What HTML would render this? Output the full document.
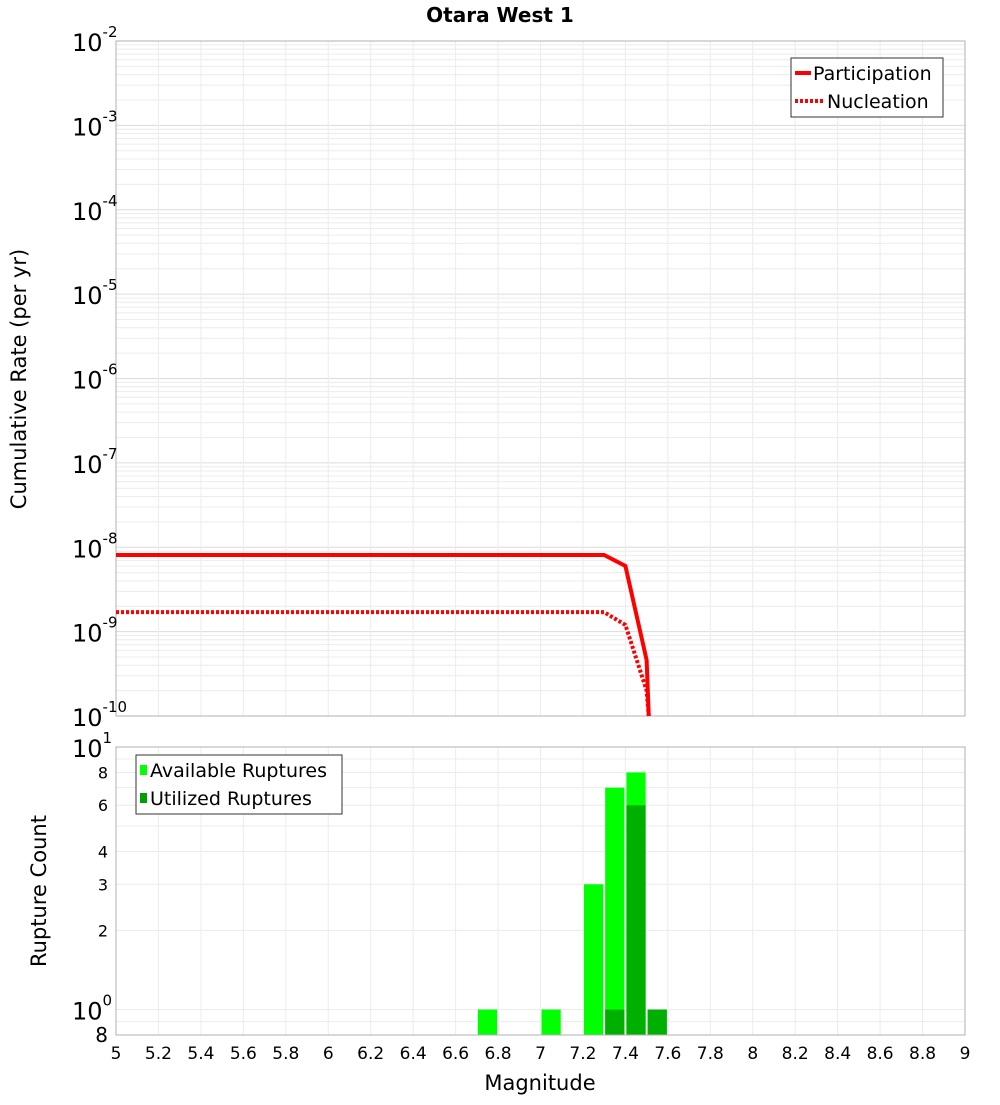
<!DOCTYPE html>
<html><head><meta charset="utf-8"><style>
body{margin:0;background:#fff;font-family:"Liberation Sans","DejaVu Sans",sans-serif}
</style></head><body>
<svg id="c" width="1000" height="1100" xmlns="http://www.w3.org/2000/svg" font-family="DejaVu Sans, Liberation Sans, sans-serif">
<text x="500" y="22" text-anchor="middle" font-size="20" font-weight="bold">Otara West 1</text>
<g id="topg"></g><g id="botg"></g>
<text transform="translate(26,379) rotate(-90)" text-anchor="middle" font-size="21">Cumulative Rate (per yr)</text>
<text transform="translate(46,891) rotate(-90)" text-anchor="middle" font-size="21">Rupture Count</text>
<text x="540" y="1090" text-anchor="middle" font-size="21">Magnitude</text>
</svg>
<script>
const partMags=[5,7.3,7.4,7.5,7.51];
const partRates=[8.1e-9,8.1e-9,6e-9,4.6e-10,1e-10];
const nuclMags=[5,7.3,7.4,7.5,7.51];
const nuclRates=[1.7e-9,1.7e-9,1.2e-9,2e-10,1e-10];
const binCenters=[6.75,7.05,7.25,7.35,7.45,7.55];
const availCounts=[1,1,3,7,8,1];
const utilCounts=[0,0,0,1,6,1];
const xTicks=[5,5.2,5.4,5.6,5.8,6,6.2,6.4,6.6,6.8,7,7.2,7.4,7.6,7.8,8,8.2,8.4,8.6,8.8,9];
const topExps=[-2,-3,-4,-5,-6,-7,-8,-9,-10];
const botTicks=[0.8,1,2,3,4,6,8,10];
const NS="http://www.w3.org/2000/svg";
const X0=116,X1=965;
const xs=m=>X0+(m-5)/4*(X1-X0);
const T0=41,T1=716;
const yt=v=>T0+(-2-Math.log10(v))/8*(T1-T0);
const B0=747,B1=1035;
const yb=v=>B0+(1-Math.log10(v))/(1-Math.log10(0.8))*(B1-B0);
function mk(p,t,a){const e=document.createElementNS(NS,t);for(const k in a)e.setAttribute(k,a[k]);p.appendChild(e);return e;}
const topG=document.getElementById('topg'),botG=document.getElementById('botg');
for(let e=-10;e<-2;e++)for(let k=1;k<10;k++){const y=yt(k*Math.pow(10,e));
 const l=mk(topG,'line',{x1:X0,x2:X1,y1:y,y2:y,stroke:k==1?'#dcdcdc':'#ececec','stroke-width':1});
 
 }
xTicks.forEach(m=>{const l=mk(topG,'line',{x1:xs(m),x2:xs(m),y1:T0,y2:T1,stroke:'#ececec'});
 
 
 const l2=mk(botG,'line',{x1:xs(m),x2:xs(m),y1:B0,y2:B1,stroke:'#ececec'});
 
 });
const tf=mk(topG,'rect',{x:X0,y:T0,width:X1-X0,height:T1-T0,fill:'none',stroke:'#b0b0b0'});


topExps.forEach(e=>{const y=yt(Math.pow(10,e));
 const t=mk(topG,'text',{x:72,y:y+10,'font-size':24});
 
 
 t.innerHTML='10<tspan dy="-14" font-size="15">'+e+'</tspan>';});
function line(ms,rs,dash,name){const pts=ms.map((m,i)=>xs(m)+','+yt(rs[i])).join(' ');
 const p=mk(topG,'polyline',{points:pts,fill:'none',stroke:'#ff0000','stroke-width':4});
 if(dash)p.setAttribute('stroke-dasharray','3,2');
 
 }
line(partMags,partRates,false,'participation-line');
line(nuclMags,nuclRates,true,'nucleation-line');
const lg=mk(topG,'g',{});


mk(lg,'rect',{x:791,y:58,width:152,height:59,fill:'#fff',stroke:'#333'});
mk(lg,'line',{x1:795,x2:811,y1:73,y2:73,stroke:'#f00','stroke-width':4});
mk(lg,'text',{x:813,y:80,'font-size':19}).textContent='Participation';
mk(lg,'line',{x1:795,x2:824,y1:101,y2:101,stroke:'#f00','stroke-width':4,'stroke-dasharray':'3,2'});
mk(lg,'text',{x:827,y:108,'font-size':19}).textContent='Nucleation';
[0.9,1,2,3,4,5,6,7,8,9].forEach(v=>{const y=yb(v);const l=mk(botG,'line',{x1:X0,x2:X1,y1:y,y2:y,stroke:'#ececec'});
 
 });
binCenters.forEach((c,i)=>{const x=xs(c-0.05)+1,w=xs(c+0.05)-xs(c-0.05)-2;
 const a=mk(botG,'rect',{x:x,y:yb(availCounts[i]),width:w,height:B1-yb(availCounts[i]),fill:'#00ff00'});
 
 
 if(utilCounts[i]>0){const u=mk(botG,'rect',{x:x,y:yb(utilCounts[i]),width:w,height:B1-yb(utilCounts[i]),fill:'#00b000'});
 
 }});
const bf=mk(botG,'rect',{x:X0,y:B0,width:X1-X0,height:B1-B0,fill:'none',stroke:'#b0b0b0'});


botTicks.forEach(v=>{const y=yb(v);const t=mk(botG,'text',{'font-size':16,'text-anchor':'end',x:108,y:y+6});
 
 
 if(v==1){t.setAttribute('font-size',24);t.setAttribute('text-anchor','start');t.setAttribute('x',72);t.setAttribute('y',y+10);t.innerHTML='10<tspan dy="-14" font-size="15">0</tspan>';}
 else if(v==10){t.setAttribute('font-size',24);t.setAttribute('text-anchor','start');t.setAttribute('x',72);t.setAttribute('y',y+10);t.innerHTML='10<tspan dy="-14" font-size="15">1</tspan>';}
 else if(v==0.8){t.setAttribute('font-size',20);t.setAttribute('y',y+7);t.textContent='8';}
 else t.textContent=v;});
xTicks.forEach(m=>{const t=mk(botG,'text',{x:xs(m),y:1059,'font-size':17,'text-anchor':'middle'});
 
 
 t.textContent=String(m);});
const lb=mk(botG,'g',{});


mk(lb,'rect',{x:136,y:755,width:206,height:59,fill:'#fff',stroke:'#333'});
mk(lb,'rect',{x:140,y:765,width:7,height:10,fill:'#00ff00'});
mk(lb,'text',{x:150,y:777,'font-size':19}).textContent='Available Ruptures';
mk(lb,'rect',{x:140,y:793,width:7,height:10,fill:'#00a000'});
mk(lb,'text',{x:150,y:805,'font-size':19}).textContent='Utilized Ruptures';
</script>
</body></html>
